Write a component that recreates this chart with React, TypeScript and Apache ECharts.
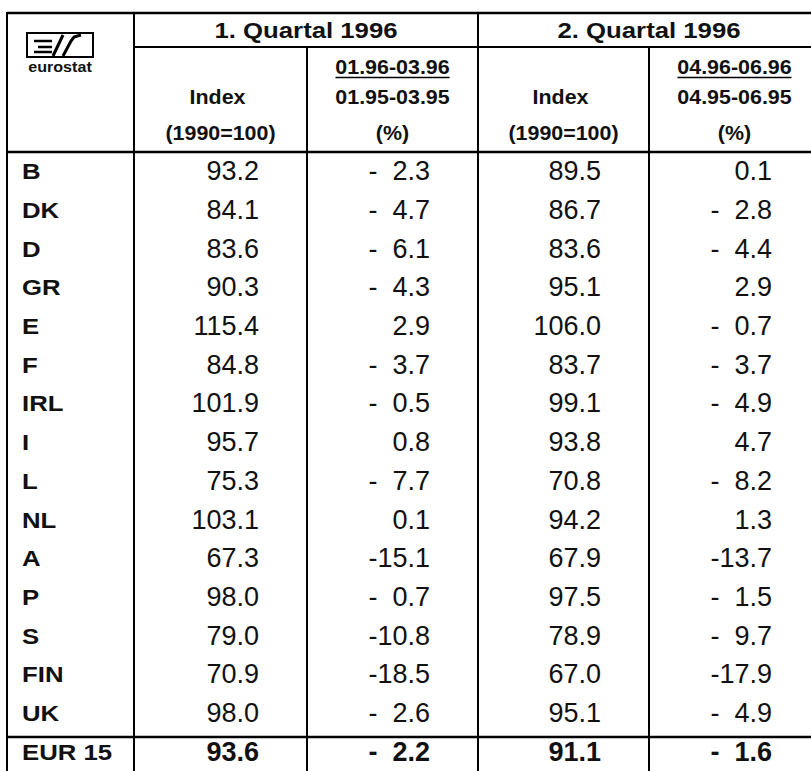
import React, { useEffect, useRef } from "react";
import * as echarts from "echarts";

// ---- data ----
const COUNTRIES = ["B", "DK", "D", "GR", "E", "F", "IRL", "I", "L", "NL", "A", "P", "S", "FIN", "UK", "EUR 15"];
const Q1_INDEX = [93.2, 84.1, 83.6, 90.3, 115.4, 84.8, 101.9, 95.7, 75.3, 103.1, 67.3, 98.0, 79.0, 70.9, 98.0, 93.6];
const Q1_CHANGE = [-2.3, -4.7, -6.1, -4.3, 2.9, -3.7, -0.5, 0.8, -7.7, 0.1, -15.1, -0.7, -10.8, -18.5, -2.6, -2.2];
const Q2_INDEX = [89.5, 86.7, 83.6, 95.1, 106.0, 83.7, 99.1, 93.8, 70.8, 94.2, 67.9, 97.5, 78.9, 67.0, 95.1, 91.1];
const Q2_CHANGE = [0.1, -2.8, -4.4, 2.9, -0.7, -3.7, -4.9, 4.7, -8.2, 1.3, -13.7, -1.5, -9.7, -17.9, -4.9, -1.6];

const QUARTERS = ["1. Quartal 1996", "2. Quartal 1996"];
const PERIOD_TOP = ["01.96-03.96", "04.96-06.96"];
const PERIOD_BOTTOM = ["01.95-03.95", "04.95-06.95"];
const INDEX_LABEL = "Index";
const INDEX_BASE = "(1990=100)";
const CHANGE_UNIT = "(%)";
const LOGO_TEXT = "eurostat";

const FONT = '"Liberation Sans", Arial, Helvetica, sans-serif';
const INK = "#111";

// layout
const COL_X = [7, 134, 307, 478, 649, 820];
const RIGHT_PAD = 48;
const DATA_FS = 27;

function txt(text: string, x: number, y: number, fs: number, bold: boolean, align: string, sx = 1) {
  return {
    type: "text",
    x,
    y,
    scaleX: sx,
    silent: true,
    style: {
      text,
      fill: INK,
      fontFamily: FONT,
      fontSize: fs,
      fontWeight: bold ? "bold" : "normal",
      align,
      verticalAlign: "middle",
      textAlign: align,
      textVerticalAlign: "middle",
    },
  };
}

function line(x1: number, y1: number, x2: number, y2: number, w = 2) {
  return {
    type: "line",
    silent: true,
    shape: { x1, y1, x2, y2 },
    style: { stroke: "#000", lineWidth: w },
  };
}

export default function App() {
  const ref = useRef<HTMLDivElement>(null);

  useEffect(() => {
    if (!ref.current) return;
    const chart = echarts.init(ref.current, undefined, { renderer: "svg" });

    const graphics: any[] = [];
    // grid lines
    graphics.push(line(COL_X[0], 13, 811, 13, 2.5));
    graphics.push(line(COL_X[1], 47, 811, 47, 2));
    graphics.push(line(COL_X[0], 152, 811, 152, 2.5));
    graphics.push(line(COL_X[0], 737, 811, 737, 2.5));
    graphics.push(line(COL_X[0], 12, COL_X[0], 771, 2));
    graphics.push(line(COL_X[1], 12, COL_X[1], 771, 2));
    graphics.push(line(COL_X[2], 47, COL_X[2], 771, 2));
    graphics.push(line(COL_X[3], 12, COL_X[3], 771, 2));
    graphics.push(line(COL_X[4], 47, COL_X[4], 771, 2));

    // headers
    for (let q = 0; q < 2; q++) {
      const l = COL_X[1 + q * 2];
      const r = COL_X[3 + q * 2];
      graphics.push(txt(QUARTERS[q], (l + r) / 2, 30, 22, true, "center", 1.17));
      const ci = (COL_X[1 + q * 2] + COL_X[2 + q * 2]) / 2;
      const cc = (COL_X[2 + q * 2] + COL_X[3 + q * 2]) / 2;
      graphics.push(txt(INDEX_LABEL, ci - 3, 97, 21, true, "center", 1.02));
      graphics.push(txt(INDEX_BASE, ci, 133, 21, true, "center", 1.02));
      graphics.push(txt(PERIOD_TOP[q], cc, 67, 21, true, "center", 1.02));
      graphics.push(line(cc - 57, 77.5, cc + 57, 77.5, 1.3));
      graphics.push(txt(PERIOD_BOTTOM[q], cc, 97, 21, true, "center", 1.02));
      graphics.push(txt(CHANGE_UNIT, cc, 133, 21, true, "center", 1.02));
    }

    // logo
    graphics.push({
      type: "rect",
      silent: true,
      shape: { x: 27, y: 33, width: 66, height: 24 },
      style: { fill: "none", stroke: "#000", lineWidth: 2 },
    });
    graphics.push(line(34, 41, 52, 41, 2.5));
    graphics.push(line(38, 47, 52, 47, 2.5));
    graphics.push(line(34, 52, 52, 52, 2.5));
    graphics.push(line(53, 56, 63, 35, 3));
    graphics.push({
      type: "polyline",
      silent: true,
      shape: { points: [[63, 56], [71, 41], [74, 37], [81, 35]] },
      style: { fill: "none", stroke: "#000", lineWidth: 3 },
    });
    graphics.push(txt(LOGO_TEXT, 60, 67, 14, true, "center", 1.15));

    const cols = [Q1_INDEX, Q1_CHANGE, Q2_INDEX, Q2_CHANGE];

    const option: any = {
      animation: false,
      grid: { left: 0, top: 152, width: 811, height: 39 * COUNTRIES.length },
      xAxis: { type: "value", min: 0, max: 811, show: false },
      yAxis: { type: "category", data: COUNTRIES, inverse: true, show: false },
      graphic: graphics,
      series: [
        {
          type: "custom",
          coordinateSystem: "cartesian2d",
          data: COUNTRIES.map((c) => [0, c]),
          encode: { x: 0, y: 1 },
          renderItem: (params: any, api: any) => {
            const i = params.dataIndex;
            const p = api.coord([0, api.value(1)]);
            const y = p[1];
            const bold = i === COUNTRIES.length - 1;
            const children: any[] = [];
            children.push(txt(COUNTRIES[i], 22, y, 23, true, "left", 1.12));
            cols.forEach((arr, k) => {
              const v = arr[i];
              const right = COL_X[k + 2] - RIGHT_PAD;
              const s = Math.abs(v).toFixed(1);
              children.push(txt(s, right, y, DATA_FS, bold, "right"));
              if (v < 0) {
                const w = DATA_FS * (0.556 * 3 + 0.278);
                children.push(txt("-", right - w, y, DATA_FS, bold, "right"));
              }
            });
            return { type: "group", children };
          },
        },
      ],
    };

    chart.setOption(option);
    return () => chart.dispose();
  }, []);

  return (
    <div
      ref={ref}
      style={{ position: "fixed", left: 0, top: 0, width: 811, height: 771, background: "#fff" }}
    />
  );
}
